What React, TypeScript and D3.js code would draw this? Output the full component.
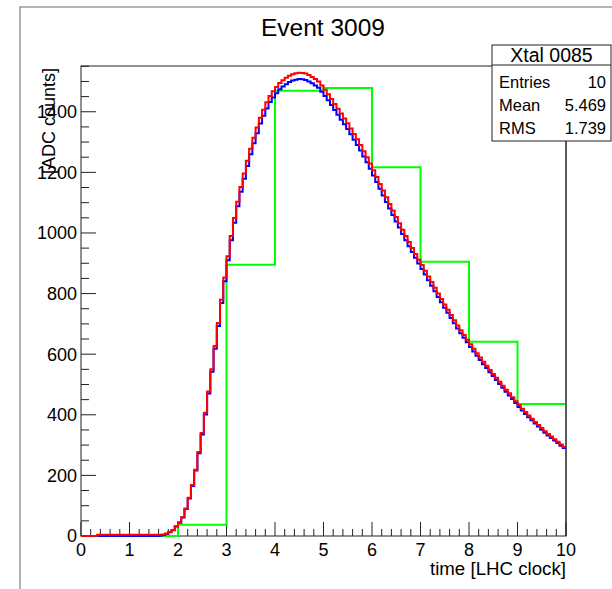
import React from 'react';
import * as d3 from 'd3';

const chartTitle = 'Event 3009';
const xAxisTitle = 'time [LHC clock]';
const yAxisTitle = '[ADC counts]';
const statsTitle = 'Xtal 0085';
const statsLabels = ['Entries', 'Mean', 'RMS'];
const statsValues = ['10', '5.469', '1.739'];
const xTicks = [0, 1, 2, 3, 4, 5, 6, 7, 8, 9, 10];
const yTicks = [0, 200, 400, 600, 800, 1000, 1200, 1400];

// coarse histogram (10 bins, 0..10)
const coarseValues = [0, 0, 37, 895, 1469, 1478, 1217, 905, 641, 436];

// fine histograms (150 bins, 0..10)
const redValues = [
  0, 0, 0, 0, 0, 4, 4, 4, 4, 4, 4, 4, 4, 4, 4, 4, 4, 4, 4, 4, 4, 4, 4, 4,
  4, 5, 8, 13, 20, 32, 45, 62, 91, 126, 168, 219, 277, 340, 407, 477, 550, 627,
  703, 780, 853, 923, 990, 1049, 1103, 1152, 1196, 1238, 1278, 1314, 1348, 1380, 1407,
  1431, 1452, 1468, 1482, 1495, 1504, 1512, 1519, 1524, 1527, 1529, 1528, 1526, 1521, 1515,
  1508, 1500, 1487, 1473, 1458, 1442, 1426, 1410, 1394, 1378, 1362, 1345, 1327, 1309, 1290,
  1270, 1250, 1229, 1207, 1185, 1162, 1140, 1118, 1096, 1074, 1053, 1032, 1011, 990, 970,
  950, 931, 912, 894, 875, 856, 838, 819, 800, 782, 764, 747, 729, 712, 695,
  679, 663, 648, 633, 618, 603, 589, 575, 562, 548, 535, 522, 509, 496, 483,
  471, 458, 445, 432, 420, 409, 398, 387, 376, 366, 356, 346, 337, 328, 319,
  311, 302, 294,
];

const blueValues = [
  0, 0, 0, 0, 0, 0, 0, 0, 0, 0, 0, 0, 0, 0, 0, 0, 0, 0, 0, 0, 0, 0, 0, 0,
  1, 3, 7, 12, 19, 31, 44, 61, 89, 124, 165, 216, 273, 335, 401, 470, 542, 618,
  693, 769, 841, 910, 976, 1034, 1088, 1136, 1179, 1221, 1260, 1296, 1329, 1361, 1387,
  1411, 1432, 1447, 1461, 1474, 1483, 1491, 1498, 1503, 1506, 1508, 1507, 1505, 1500, 1494,
  1487, 1479, 1466, 1452, 1438, 1422, 1406, 1390, 1374, 1359, 1343, 1326, 1308, 1290, 1272,
  1252, 1233, 1212, 1190, 1168, 1146, 1124, 1102, 1081, 1059, 1038, 1018, 997, 976, 956,
  937, 918, 899, 881, 863, 844, 826, 808, 789, 771, 753, 737, 719, 702, 685,
  669, 654, 639, 624, 609, 595, 581, 567, 554, 540, 528, 515, 502, 489, 476,
  464, 452, 439, 426, 414, 403, 392, 382, 371, 361, 351, 341, 332, 323, 315,
  307, 298, 290,
];

const FONT = '"Liberation Sans", Arial, Helvetica, sans-serif';

const W = 612;
const H = 589;
const L = 81;
const R = 566;
const T = 66;
const B = 536;

const x = d3.scaleLinear().domain([0, 10]).range([L, R]);
const y = d3.scaleLinear().domain([0, 1551]).range([B, T]);

function stepPoints(values: number[], xmin: number, xmax: number): [number, number][] {
  const n = values.length;
  const w = (xmax - xmin) / n;
  const pts: [number, number][] = [];
  values.forEach((v, i) => {
    pts.push([xmin + i * w, v]);
    pts.push([xmin + (i + 1) * w, v]);
  });
  return pts;
}

const line = d3
  .line<[number, number]>()
  .x((d) => x(d[0]))
  .y((d) => y(d[1]));

export default function App() {
  const coarsePts: [number, number][] = [[0, 0], ...stepPoints(coarseValues, 0, 10)];
  const redPts = stepPoints(redValues, 0, 10);
  const bluePts = stepPoints(blueValues, 0, 10);

  const xMinor = d3.range(0, 10.0001, 0.2);
  const yMinor = d3.range(0, 1551, 50);

  return (
    <svg
      width={W}
      height={H}
      style={{ position: 'absolute', left: 0, top: 0, background: '#fff' }}
      fontFamily={FONT}
    >
      <rect x={0} y={0} width={W} height={H} fill="#fff" />
      {/* pad border */}
      <path d={`M20,${H} L20,7 L${W},7`} fill="none" stroke="#9a9a9a" strokeWidth={1.5} />

      {/* title */}
      <text x={323} y={36} fontSize={24.5} textAnchor="middle" fill="#000">
        {chartTitle}
      </text>

      {/* frame */}
      <rect x={L} y={T} width={R - L} height={B - T} fill="none" stroke="#222" strokeWidth={1} />

      {/* x ticks */}
      {xMinor.map((t, i) => {
        const major = Math.abs(t - Math.round(t)) < 1e-6;
        return (
          <line
            key={'xm' + i}
            x1={x(t)}
            x2={x(t)}
            y1={B}
            y2={B - (major ? 14 : 7)}
            stroke="#222"
            strokeWidth={1}
          />
        );
      })}
      {/* y ticks */}
      {yMinor.map((v, i) => {
        const major = v % 200 === 0;
        return (
          <line
            key={'ym' + i}
            x1={L}
            x2={L + (major ? 15 : 8)}
            y1={y(v)}
            y2={y(v)}
            stroke="#222"
            strokeWidth={1}
          />
        );
      })}

      {/* histograms */}
      <clipPath id="plotclip">
        <rect x={L} y={T - 10} width={R - L} height={B - T + 12} />
      </clipPath>
      <g clipPath="url(#plotclip)" fill="none" strokeWidth={2} strokeLinejoin="miter">
        <path d={line(coarsePts) || ''} stroke="#00ff00" />
        <path d={line(bluePts) || ''} stroke="#0000ff" />
        <path d={line(redPts) || ''} stroke="#ff0000" />
      </g>

      {/* right frame edge on top */}
      <line x1={R} x2={R} y1={T} y2={B} stroke="#222" strokeWidth={1} />

      {xTicks.map((t) => (
        <text key={'xl' + t} x={x(t)} y={556} fontSize={18} textAnchor="middle" fill="#000">
          {t}
        </text>
      ))}
      <text x={R} y={575} fontSize={18.7} textAnchor="end" fill="#000">
        {xAxisTitle}
      </text>

      {yTicks.map((v) => (
        <text key={'yl' + v} x={77} y={y(v)} dy="0.36em" fontSize={18} textAnchor="end" fill="#000">
          {v}
        </text>
      ))}
      <text
        transform={`translate(55,${T + 2}) rotate(-90)`}
        fontSize={18}
        textAnchor="end"
        fill="#000"
      >
        {yAxisTitle}
      </text>

      {/* stats box */}
      <rect x={492} y={45} width={119} height={96} fill="#fff" stroke="#222" strokeWidth={1} />
      <line x1={492} x2={611} y1={65} y2={65} stroke="#222" strokeWidth={1} />
      <text x={551.5} y={62} fontSize={19.5} textAnchor="middle" fill="#000">
        {statsTitle}
      </text>
      {statsLabels.map((s, i) => (
        <text key={'sl' + i} x={499} y={88 + i * 23} fontSize={16.5} fill="#000">
          {s}
        </text>
      ))}
      {statsValues.map((s, i) => (
        <text key={'sv' + i} x={606} y={88 + i * 23} fontSize={16.5} textAnchor="end" fill="#000">
          {s}
        </text>
      ))}
    </svg>
  );
}
